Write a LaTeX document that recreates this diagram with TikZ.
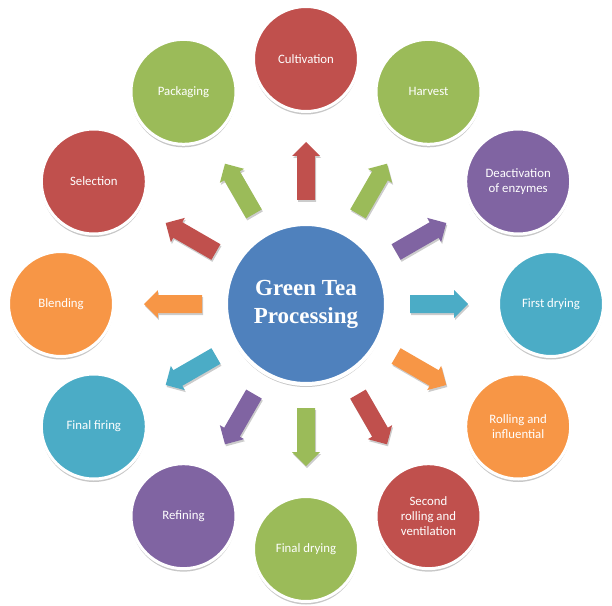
\documentclass[tikz,border=0pt]{standalone}
\usepackage{fontspec}
\setmainfont{Carlito}
\newfontfamily\titlefont{Liberation Serif}
\usetikzlibrary{shadows,calc}
\definecolor{tred}{HTML}{C0504D}
\definecolor{tgreen}{HTML}{9BBB59}
\definecolor{tpurple}{HTML}{8064A2}
\definecolor{tteal}{HTML}{4BACC6}
\definecolor{torange}{HTML}{F79646}
\definecolor{tblue}{HTML}{4F81BD}
\begin{document}
\begin{tikzpicture}[x=1pt,y=1pt,
  softshadow/.style={drop shadow={shadow xshift=0pt, shadow yshift=-3pt, opacity=0.22, fill=black}},
  stage/.style={circle, draw=white, line width=3pt, minimum size=105pt, inner sep=0pt,
    text=white, font=\fontsize{12.8}{15}\selectfont, align=center, softshadow},
  hub/.style={circle, draw=white, line width=4pt, minimum size=160pt, inner sep=0pt,
    fill=tblue, text=white, font=\titlefont\bfseries\fontsize{23}{28}\selectfont, align=center, softshadow},
  blockarrow/.style={draw=none, drop shadow={shadow xshift=1pt, shadow yshift=-2pt, opacity=0.2, fill=black}}]
\useasboundingbox (-306,-301) rectangle (306,304);
\node[hub] (ctr) at (0,0) {Green Tea\\Processing};
\foreach \a/\c/\t/\n in {
  90/tred/{Cultivation}/cult,
  60/tgreen/{Harvest}/harv,
  30/tpurple/{Deactivation\\of enzymes}/deac,
  0/tteal/{First drying}/fdry,
  -30/torange/{Rolling and\\influential}/roll,
  -60/tred/{Second\\rolling and\\ventilation}/sroll,
  -90/tgreen/{Final drying}/findry,
  -120/tpurple/{Refining}/refi,
  -150/tteal/{Final firing}/firing,
  180/torange/{Blending}/blend,
  150/tred/{Selection}/selec,
  120/tgreen/{Packaging}/pack} {
  \node[stage, fill=\c] (\n) at (\a:245) {\t};
  \fill[\c, blockarrow]
    ($(ctr)!104pt!(\n)!9pt!90:(\n)$) --
    ($(ctr)!148pt!(\n)!9pt!90:(\n)$) --
    ($(ctr)!148pt!(\n)!14pt!90:(\n)$) --
    ($(ctr)!162pt!(\n)$) --
    ($(ctr)!148pt!(\n)!14pt!-90:(\n)$) --
    ($(ctr)!148pt!(\n)!9pt!-90:(\n)$) --
    ($(ctr)!104pt!(\n)!9pt!-90:(\n)$) -- cycle;
}
\end{tikzpicture}
\end{document}
